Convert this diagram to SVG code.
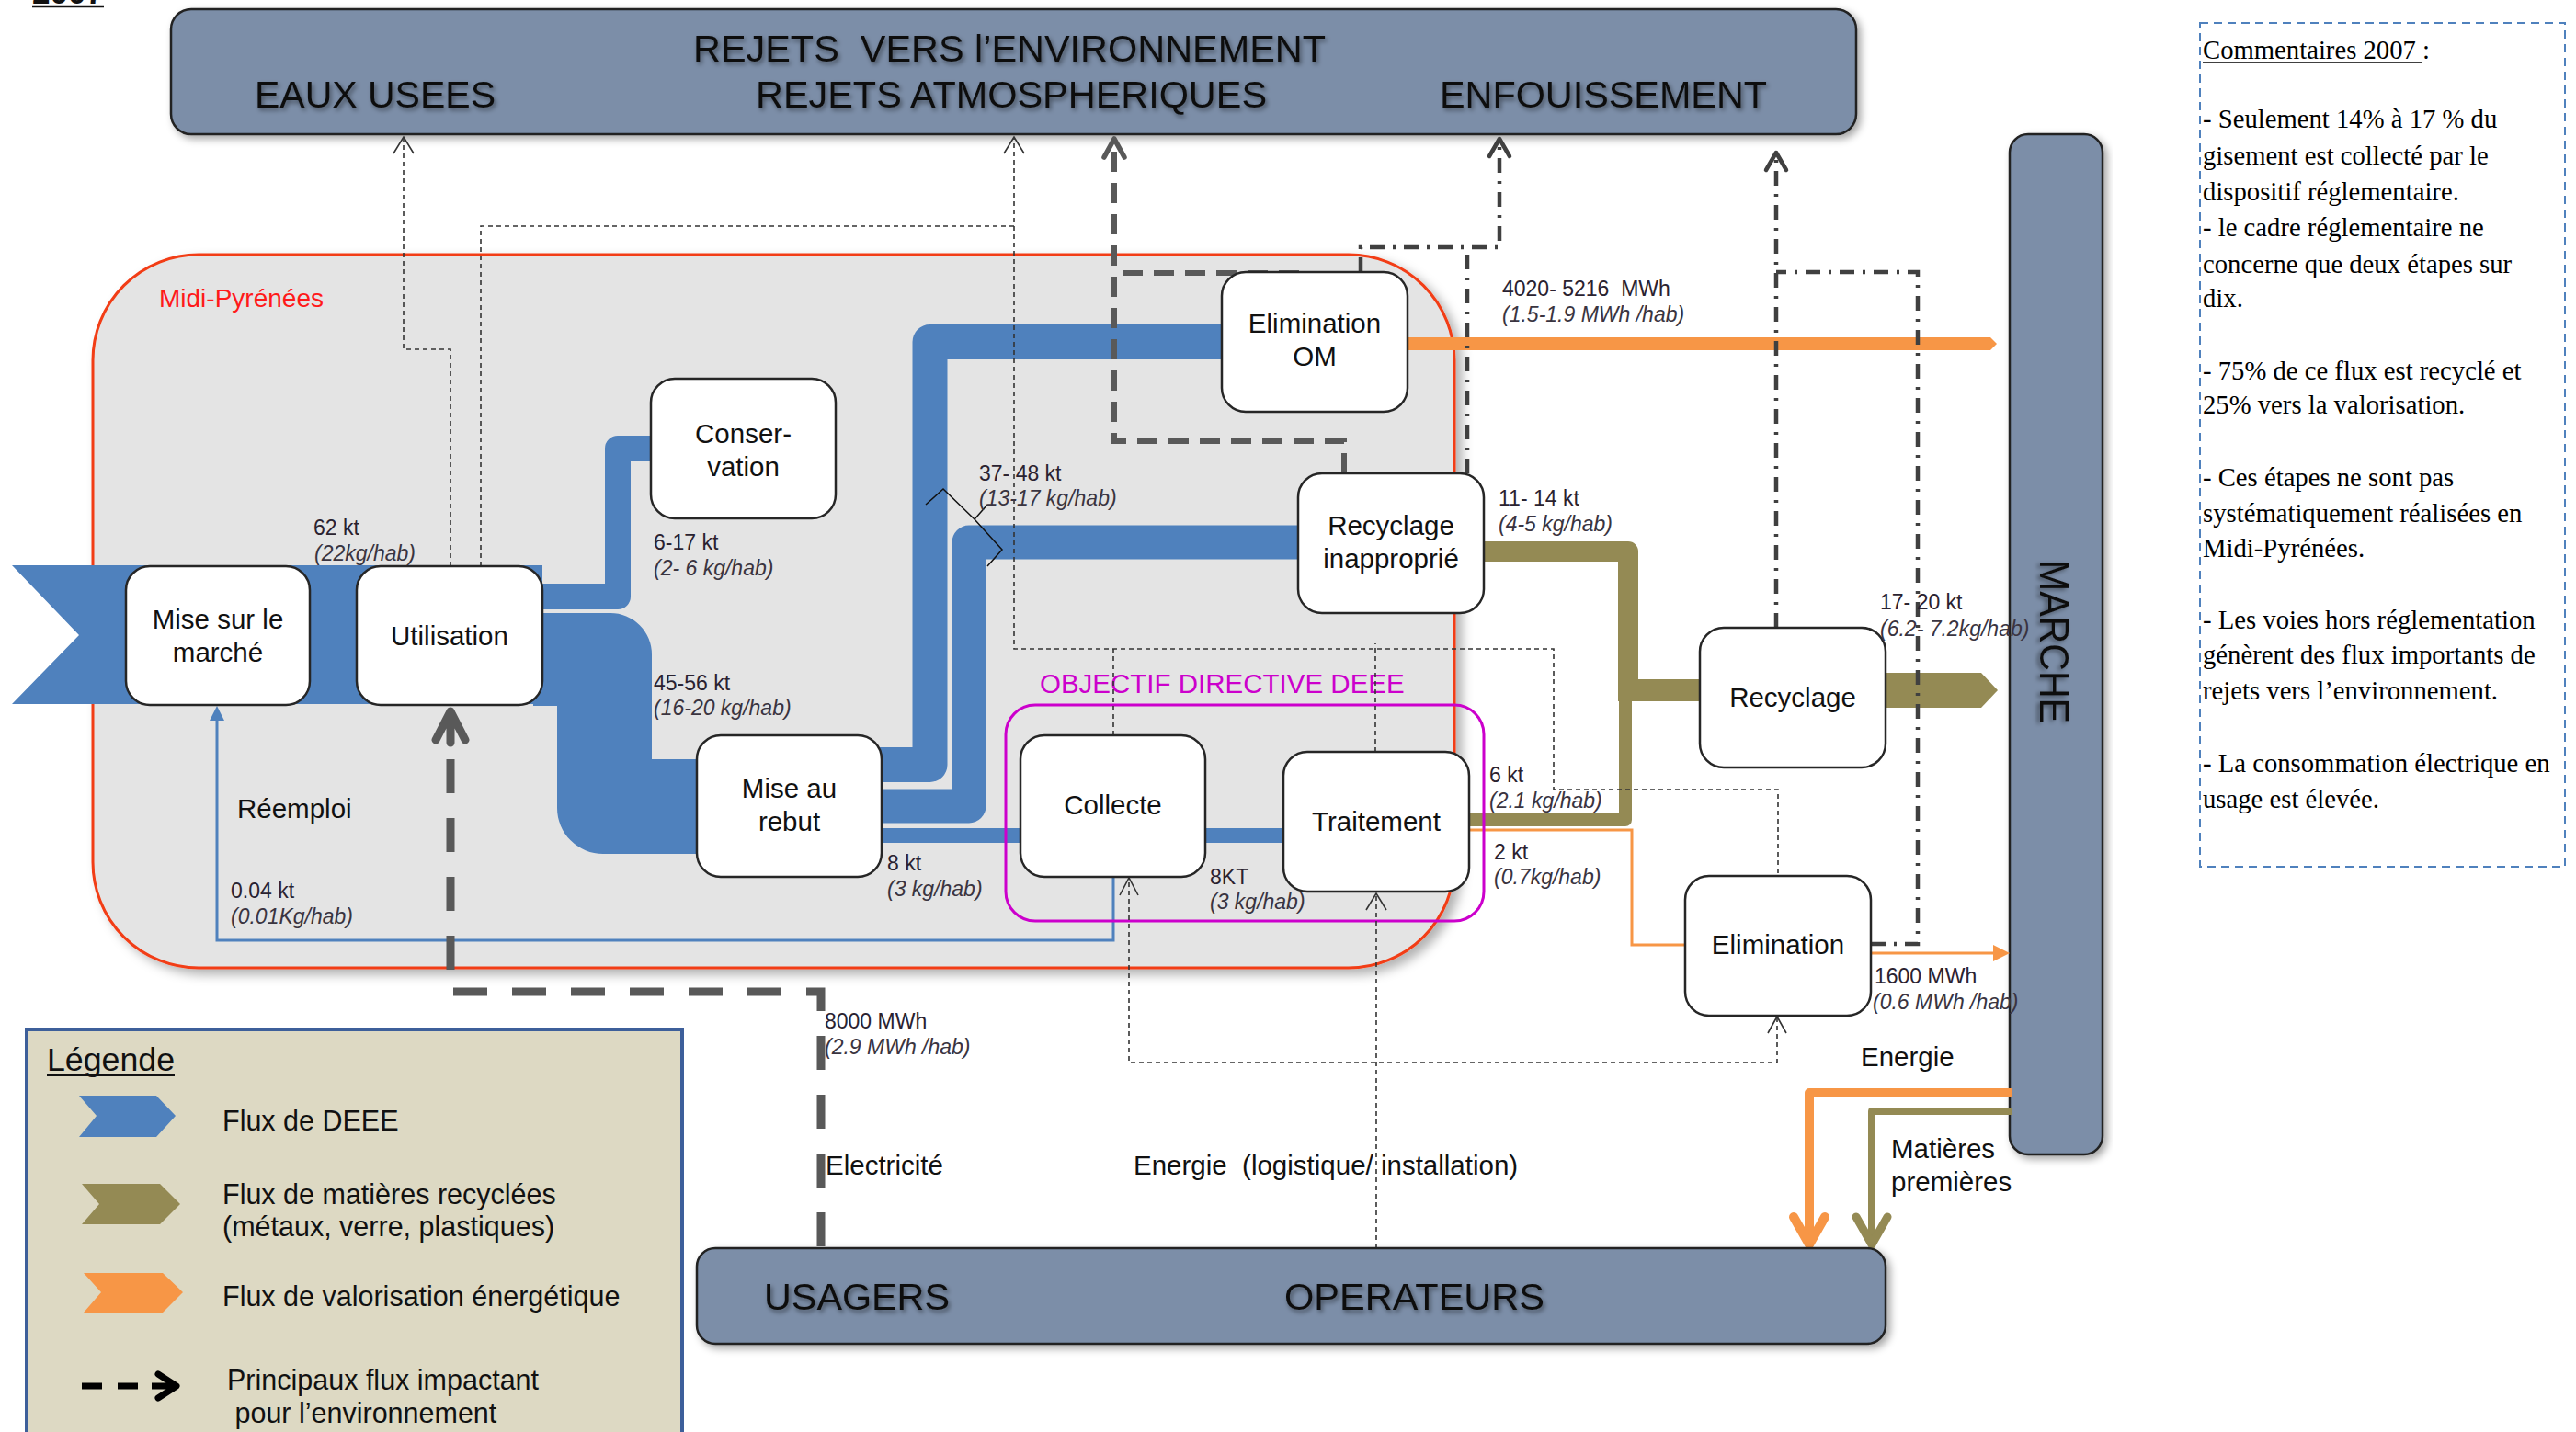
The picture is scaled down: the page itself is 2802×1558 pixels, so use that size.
<svg xmlns="http://www.w3.org/2000/svg" width="2802" height="1558" viewBox="0 0 2802 1558">
<style>
text{font-family:"Liberation Sans",Arial,sans-serif;}
.big{font-size:41px;fill:#111;filter:url(#ts);}
.node{fill:#fff;stroke:#262626;stroke-width:2.5;}
.nt{font-size:29.5px;fill:#111;text-anchor:middle;}
.lbl{font-size:23px;fill:#2a2230;}
.lbli{font-size:23px;fill:#3a3440;font-style:italic;}
.txt{font-size:29.5px;fill:#111;}
.com{font-family:"Liberation Serif","Times New Roman",serif;font-size:28.7px;fill:#000;}
.box{fill:#7b8ea8;stroke:#222;stroke-width:2.5;filter:url(#ds);}
.blue{fill:none;stroke:#4f81bd;stroke-linejoin:round;}
.olive{fill:none;stroke:#948a54;stroke-linejoin:round;}
.thin{fill:none;stroke:#333;stroke-width:1.6;stroke-dasharray:5 4;}
.arr{fill:none;stroke:#333;stroke-width:1.6;}
.thick{fill:none;stroke:#595959;stroke-width:9;stroke-dasharray:37 27;}
.med{fill:none;stroke:#595959;stroke-width:6;stroke-dasharray:22 12;}
.dd{fill:none;stroke:#404040;stroke-width:4.5;stroke-dasharray:16 9 3 9;}
.sol{fill:none;stroke-linecap:round;stroke-linejoin:round;}
</style>
<defs>
<filter id="ds" x="-5%" y="-10%" width="115%" height="130%"><feDropShadow dx="4" dy="4" stdDeviation="4" flood-color="#000" flood-opacity="0.35"/></filter>
<filter id="ts" x="-5%" y="-40%" width="115%" height="190%"><feDropShadow dx="2" dy="3" stdDeviation="2.5" flood-color="#000" flood-opacity="0.45"/></filter>
<filter id="rs" x="-3%" y="-3%" width="110%" height="110%"><feDropShadow dx="7" dy="6" stdDeviation="6" flood-color="#000" flood-opacity="0.3"/></filter>
</defs>

<!-- year -->
<text x="35" y="4" font-size="35" font-weight="bold" fill="#111">2007</text>
<line x1="35" y1="7" x2="113" y2="7" stroke="#111" stroke-width="2.5"/>

<!-- top box -->
<g id="rejets">
<rect class="box" x="186" y="10" width="1833" height="136" rx="22"/>
<text class="big" x="754" y="67" textLength="688" lengthAdjust="spacingAndGlyphs" xml:space="preserve">REJETS  VERS l’ENVIRONNEMENT</text>
<text class="big" x="277" y="117" textLength="262" lengthAdjust="spacingAndGlyphs">EAUX USEES</text>
<text class="big" x="822" y="117" textLength="556" lengthAdjust="spacingAndGlyphs">REJETS ATMOSPHERIQUES</text>
<text class="big" x="1566" y="117" textLength="356" lengthAdjust="spacingAndGlyphs">ENFOUISSEMENT</text>
</g>

<!-- comments -->
<g id="commentaires">
<rect x="2393" y="25" width="397" height="918" fill="none" stroke="#4f81bd" stroke-width="2" stroke-dasharray="9 6"/>
<text class="com" x="2396" y="64">Commentaires 2007 :</text>
<line x1="2396" y1="68" x2="2634" y2="68" stroke="#000" stroke-width="1.5"/>
<text class="com" x="2396" y="139">- Seulement 14% à 17 % du</text>
<text class="com" x="2396" y="179">gisement est collecté par le</text>
<text class="com" x="2396" y="218">dispositif réglementaire.</text>
<text class="com" x="2396" y="257">- le cadre réglementaire ne</text>
<text class="com" x="2396" y="297">concerne que deux étapes sur</text>
<text class="com" x="2396" y="334">dix.</text>
<text class="com" x="2396" y="413">- 75% de ce flux est recyclé et</text>
<text class="com" x="2396" y="450">25% vers la valorisation.</text>
<text class="com" x="2396" y="529">- Ces étapes ne sont pas</text>
<text class="com" x="2396" y="568">systématiquement réalisées en</text>
<text class="com" x="2396" y="606">Midi-Pyrénées.</text>
<text class="com" x="2396" y="684">- Les voies hors réglementation</text>
<text class="com" x="2396" y="722">génèrent des flux importants de</text>
<text class="com" x="2396" y="761">rejets vers l’environnement.</text>
<text class="com" x="2396" y="840">- La consommation électrique en</text>
<text class="com" x="2396" y="879">usage est élevée.</text>
</g>

<!-- region -->
<g id="midi-pyrenees">
<rect x="101" y="277" width="1481" height="776" rx="115" fill="#e4e4e4" stroke="#f23c14" stroke-width="3" filter="url(#rs)"/>
<text x="173" y="334" font-size="28" fill="#ff1a1a">Midi-Pyrénées</text>
</g>

<!-- marche -->
<g id="marche">
<rect class="box" x="2186" y="146" width="101" height="1110" rx="20"/>
<text class="big" transform="translate(2219,609) rotate(90)" textLength="178" lengthAdjust="spacingAndGlyphs" style="font-size:44px">MARCHE</text>
</g>

<!-- flows -->
<g id="flows">
<path d="M13,615 H560 V766 H13 L86,691 Z" fill="#4f81bd"/>
<path d="M560,615 H590 V766 H560 Z" fill="#4f81bd"/>
<path class="blue" stroke-width="28" d="M580,649 H672 V488 H712"/>
<path d="M580,667 H664 A45,45 0 0 1 709,712 V826 H762 V929 H656 A50,50 0 0 1 606,879 V768 H580 Z" fill="#4f81bd"/>
<path class="blue" stroke-width="38" d="M955,832 H1011.5 V372 H1335"/>
<path class="blue" stroke-width="37" d="M955,877 H1054 V590 H1416"/>
<path class="blue" stroke-width="16" d="M955,909 H1400"/>
<polyline points="1007,549 1026,532 1060,565 1090,598 1074,616" fill="none" stroke="#111" stroke-width="1.5"/>
<line x1="1060" y1="565" x2="1074" y2="549" stroke="#111" stroke-width="1.5"/>
<!-- olive -->
<path class="olive" stroke-width="22" d="M1612,600 H1771 V752"/>
<path class="olive" stroke-width="14" d="M1596,892 H1768 V752"/>
<rect x="1760" y="739" width="92" height="24" fill="#948a54"/>
<path d="M2049,732 H2155 L2173,751 L2155,770 H2049 Z" fill="#948a54"/>
<path class="olive" stroke-width="8" d="M2188,1209 H2036 V1350"/>
<path class="sol" stroke="#948a54" stroke-width="9" d="M2019,1324 L2036,1354 L2053,1324"/>
<!-- orange -->
<path d="M1531,367 H2165 L2172,374 L2165,381 H1531 Z" fill="#f79646"/>
<path d="M1598,903 H1775 V1028 H1833" fill="none" stroke="#f79646" stroke-width="3"/>
<path d="M2035,1037 H2170" fill="none" stroke="#f79646" stroke-width="3"/>
<path d="M2168,1028 L2186,1037 L2168,1046 Z" fill="#f79646"/>
<path d="M2188,1189 H1968 V1350" fill="none" stroke="#f79646" stroke-width="10" stroke-linejoin="round"/>
<path class="sol" stroke="#f79646" stroke-width="10" d="M1951,1324 L1968,1354 L1985,1324"/>
<!-- reemploi -->
<path d="M1211,954 V1023 H236 V782" fill="none" stroke="#4f81bd" stroke-width="3"/>
<path d="M228,784 L236,768 L244,784 Z" fill="#4f81bd"/>
</g>

<!-- objectif -->
<g id="objectif">
<rect x="1094" y="767" width="520" height="235" rx="32" fill="none" stroke="#cc00cc" stroke-width="3"/>
<text x="1131" y="754" font-size="29.5" fill="#cc00cc">OBJECTIF DIRECTIVE DEEE</text>
</g>

<!-- connectors -->
<g id="connectors">
<path class="thin" d="M490,616 V380 H439 V150"/>
<path class="arr" d="M428,167 L439,149 L450,167"/>
<path class="thin" d="M523,616 V246 H1103 V150"/>
<path class="arr" d="M1092,167 L1103,149 L1114,167"/>
<path class="thin" d="M1103,246 V706 H1690 V859 H1934 V953"/>
<path class="thin" d="M1211,800 V706"/>
<path class="thin" d="M1496,818 V700"/>
<path class="thin" d="M1933,1107 V1156 H1228 V957"/>
<path class="arr" d="M1218,974 L1228,955 L1238,974"/>
<path class="arr" d="M1923,1124 L1933,1106 L1943,1124"/>
<path class="thin" d="M1497,1358 V974"/>
<path class="arr" d="M1486,990 L1497,972 L1508,990"/>
<path class="thick" d="M893,1356 V1079 H490 V812"/>
<path class="sol" stroke="#595959" stroke-width="9" d="M474,805 L490,774 L506,805 M490,776 V808"/>
<path class="med" d="M1462,515 V480 H1212 V154"/>
<path class="med" d="M1413,297 H1212"/>
<path class="sol" stroke="#595959" stroke-width="5.5" d="M1201,171 L1212,151 L1223,171"/>
<path class="dd" d="M1480,296 V269 H1631 V153"/>
<path class="dd" d="M1596,515 V269"/>
<path class="sol" stroke="#404040" stroke-width="4.5" d="M1620,170 L1631,151 L1642,170"/>
<path class="dd" d="M1932,683 V168"/>
<path class="dd" d="M2035,1027 H2086 V296 H1932"/>
<path class="sol" stroke="#404040" stroke-width="4.5" d="M1921,185 L1932,166 L1943,185"/>
</g>

<!-- nodes -->
<g id="mise-sur-le-marche"><rect class="node" x="137" y="616" width="200" height="151" rx="26"/><text class="nt" x="237" y="684">Mise sur le</text><text class="nt" x="237" y="720">marché</text></g>
<g id="utilisation"><rect class="node" x="388" y="616" width="202" height="151" rx="26"/><text class="nt" x="489" y="702">Utilisation</text></g>
<g id="conservation"><rect class="node" x="708" y="412" width="201" height="152" rx="26"/><text class="nt" x="808.5" y="482">Conser-</text><text class="nt" x="808.5" y="518">vation</text></g>
<g id="mise-au-rebut"><rect class="node" x="758" y="800" width="201" height="154" rx="26"/><text class="nt" x="858.5" y="868">Mise au</text><text class="nt" x="858.5" y="904">rebut</text></g>
<g id="collecte"><rect class="node" x="1110" y="800" width="201" height="154" rx="26"/><text class="nt" x="1210.5" y="886">Collecte</text></g>
<g id="traitement"><rect class="node" x="1396" y="818" width="202" height="152" rx="26"/><text class="nt" x="1497" y="904">Traitement</text></g>
<g id="recyclage-inapproprie"><rect class="node" x="1412" y="515" width="202" height="152" rx="26"/><text class="nt" x="1513" y="582">Recyclage</text><text class="nt" x="1513" y="618">inapproprié</text></g>
<g id="elimination-om"><rect class="node" x="1329" y="296" width="202" height="152" rx="26"/><text class="nt" x="1430" y="362">Elimination</text><text class="nt" x="1430" y="398">OM</text></g>
<g id="recyclage"><rect class="node" x="1849" y="683" width="202" height="152" rx="26"/><text class="nt" x="1950" y="769">Recyclage</text></g>
<g id="elimination"><rect class="node" x="1833" y="953" width="202" height="152" rx="26"/><text class="nt" x="1934" y="1038">Elimination</text></g>

<!-- labels -->
<g id="labels">
<text class="lbl" x="341" y="582">62 kt</text><text class="lbli" x="342" y="610">(22kg/hab)</text>
<text class="lbl" x="711" y="598">6-17 kt</text><text class="lbli" x="711" y="626">(2- 6 kg/hab)</text>
<text class="lbl" x="711" y="751">45-56 kt</text><text class="lbli" x="711" y="778">(16-20 kg/hab)</text>
<text class="lbl" x="965" y="947">8 kt</text><text class="lbli" x="965" y="975">(3 kg/hab)</text>
<text class="lbl" x="1065" y="523">37- 48 kt</text><text class="lbli" x="1065" y="550">(13-17 kg/hab)</text>
<text class="lbl" x="1634" y="322" xml:space="preserve">4020- 5216  MWh</text><text class="lbli" x="1634" y="350">(1.5-1.9 MWh /hab)</text>
<text class="lbl" x="1630" y="550">11- 14 kt</text><text class="lbli" x="1630" y="578">(4-5 kg/hab)</text>
<text class="lbl" x="1620" y="851">6 kt</text><text class="lbli" x="1620" y="879">(2.1 kg/hab)</text>
<text class="lbl" x="1625" y="935">2 kt</text><text class="lbli" x="1625" y="962">(0.7kg/hab)</text>
<text class="lbl" x="2045" y="663">17- 20 kt</text><text class="lbli" x="2045" y="692">(6.2- 7.2kg/hab)</text>
<text class="lbl" x="1316" y="962">8KT</text><text class="lbli" x="1316" y="989">(3 kg/hab)</text>
<text class="lbl" x="251" y="977">0.04 kt</text><text class="lbli" x="251" y="1005">(0.01Kg/hab)</text>
<text class="lbl" x="2039" y="1070">1600 MWh</text><text class="lbli" x="2037" y="1098">(0.6 MWh /hab)</text>
<text class="lbl" x="897" y="1119">8000 MWh</text><text class="lbli" x="897" y="1147">(2.9 MWh /hab)</text>
<text class="txt" x="258" y="890">Réemploi</text>
<text class="txt" x="898" y="1278">Electricité</text>
<text class="txt" x="1233" y="1278" xml:space="preserve">Energie  (logistique/ installation)</text>
<text class="txt" x="2024" y="1160">Energie</text>
<text class="txt" x="2057" y="1260">Matières</text>
<text class="txt" x="2057" y="1296">premières</text>
</g>

<!-- usagers -->
<g id="usagers-operateurs">
<rect class="box" x="758" y="1358" width="1293" height="104" rx="20"/>
<text class="big" x="831" y="1425" textLength="202" lengthAdjust="spacingAndGlyphs">USAGERS</text>
<text class="big" x="1397" y="1425" textLength="283" lengthAdjust="spacingAndGlyphs">OPERATEURS</text>
</g>

<!-- legend -->
<g id="legende">
<rect x="29" y="1120" width="713" height="460" fill="#ddd9c3" stroke="#3d5f9a" stroke-width="4"/>
<text x="51" y="1165" font-size="35.5" fill="#111" textLength="139" lengthAdjust="spacingAndGlyphs">Légende</text>
<line x1="51" y1="1170" x2="190" y2="1170" stroke="#111" stroke-width="2"/>
<path d="M86,1192 H170 L191,1214 L170,1237 H86 L105,1214 Z" fill="#4f81bd"/>
<text x="242" y="1230" font-size="30.5" fill="#111">Flux de DEEE</text>
<path d="M89,1288 H174 L196,1310 L174,1332 H89 L108,1310 Z" fill="#948a54"/>
<text x="242" y="1310" font-size="30.5" fill="#111">Flux de matières recyclées</text>
<text x="242" y="1345" font-size="30.5" fill="#111">(métaux, verre, plastiques)</text>
<path d="M91,1385 H177 L199,1406 L177,1428 H91 L110,1406 Z" fill="#f79646"/>
<text x="242" y="1421" font-size="30.5" fill="#111">Flux de valorisation énergétique</text>
<path d="M89,1508 H111 M128,1508 H150 M165,1508 H188" stroke="#000" stroke-width="7" fill="none"/>
<path class="sol" stroke="#000" stroke-width="7" d="M172,1495 L192,1508 L172,1521"/>
<text x="247" y="1512" font-size="30.5" fill="#111">Principaux flux impactant</text>
<text x="247" y="1548" font-size="30.5" fill="#111" xml:space="preserve"> pour l’environnement</text>
</g>
</svg>
